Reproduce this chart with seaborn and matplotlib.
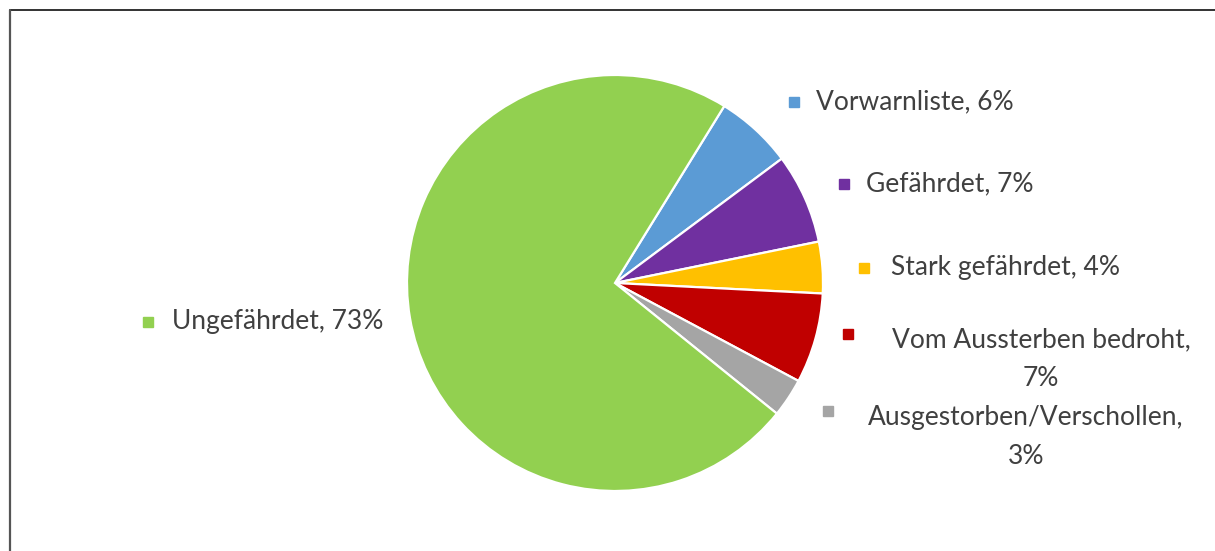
import matplotlib
matplotlib.use("Agg")
from matplotlib import pyplot as plt
from matplotlib.lines import Line2D
import seaborn as sns

# Rote-Liste-Kategorien (Anteile in %)
categories = ['Vorwarnliste', 'Gefährdet', 'Stark gefährdet',
              'Vom Aussterben bedroht', 'Ausgestorben/Verschollen', 'Ungefährdet']
shares = [6, 7, 4, 7, 3, 73]
colors = ['#5B9BD5', '#7030A0', '#FFC000', '#C00000', '#A5A5A5', '#92D050']

# label layout in pixel coords: (marker x, marker y, text x, text y, align)
label_pos = [
    (794, 102, 816, 102, 'left'),
    (844, 184, 866, 184, 'left'),
    (864, 268, 891, 268, 'left'),
    (848, 334, 1041, 359, 'center'),
    (828, 411, 1026, 437, 'center'),
    (148, 322, 172, 322, 'left'),
]
wrapped = [False, False, False, True, True, False]

W, H = 1215, 551

sns.set_style("white")
plt.rcParams['font.family'] = ['Lato', 'DejaVu Sans']

fig = plt.figure(figsize=(W / 100, H / 100), dpi=100)
ax = fig.add_axes([0, 0, 1, 1])

# pie, clockwise from the first slice
ax.pie(shares, colors=colors, startangle=58.3, counterclock=False,
       center=(615, H - 283), radius=208,
       wedgeprops=dict(edgecolor='white', linewidth=1.6))

ax.set_xlim(0, W)
ax.set_ylim(0, H)
ax.set_aspect('auto')
ax.axis('off')

# data labels with coloured squares
for name, val, col, pos, wr in zip(categories, shares, colors, label_pos, wrapped):
    mx, my, tx, ty, ha = pos
    sep = ',\n' if wr else ', '
    ax.plot(mx, H - my, marker='s', markersize=7.5, color=col, linestyle='none')
    ax.text(tx, H - ty, f'{name}{sep}{val}%', ha=ha, va='center',
            multialignment='center', fontsize=19, color='#404040', linespacing=1.65)

# chart area border (top and left visible)
fig.add_artist(Line2D([9.5 / W, 1], [1 - 9.5 / H, 1 - 9.5 / H], color='#222222', linewidth=1.3))
fig.add_artist(Line2D([9.5 / W, 9.5 / W], [0, 1 - 9.5 / H], color='#555555', linewidth=1.6))

fig.savefig('out.png', dpi=100)
